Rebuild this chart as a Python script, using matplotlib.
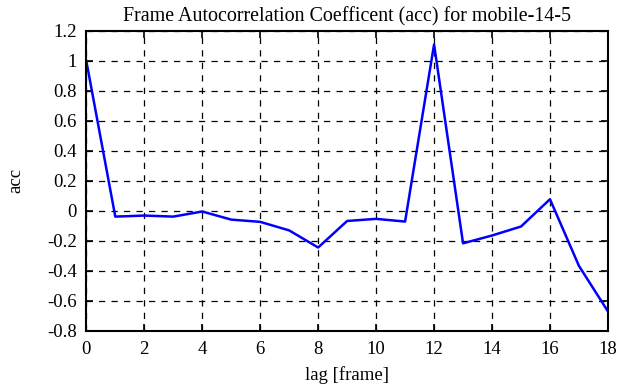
import matplotlib
matplotlib.use('Agg')
import matplotlib.pyplot as plt

lags = list(range(19))
acc = [1.0, -0.038, -0.031, -0.038, -0.004, -0.058, -0.073, -0.13, -0.244,
       -0.067, -0.053, -0.071, 1.11, -0.216, -0.164, -0.104, 0.078, -0.367,
       -0.67]
xticks = list(range(0, 19, 2))
yticks = [-0.8, -0.6, -0.4, -0.2, 0, 0.2, 0.4, 0.6, 0.8, 1, 1.2]
ylabels = ['-0.8', '-0.6', '-0.4', '-0.2', '0', '0.2', '0.4', '0.6', '0.8', '1', '1.2']

plt.rcParams['font.family'] = ['Liberation Serif', 'DejaVu Serif']
plt.rcParams['font.size'] = 13.5

fig, ax = plt.subplots(figsize=(6.3, 3.87), dpi=100)
fig.subplots_adjust(left=0.137, right=0.965, top=0.92, bottom=0.145)

ax.plot(lags, acc, color='#0000ff', linewidth=1.8)

ax.set_xlim(0, 18)
ax.set_ylim(-0.8, 1.2)
ax.set_xticks(xticks)
ax.set_yticks(yticks)
ax.set_yticklabels(ylabels)
ax.grid(True, color='black', linestyle=(0, (5, 5)), linewidth=0.9)
ax.tick_params(direction='in', top=True, right=True, length=5, width=1.2, pad=7)
for s in ax.spines.values():
    s.set_linewidth(1.5)

ax.set_title('Frame Autocorrelation Coefficent (acc) for mobile-14-5',
             fontsize=14.4, pad=7)
ax.set_xlabel('lag [frame]', labelpad=6)
ax.set_ylabel('acc', labelpad=16)

fig.savefig('out.png', dpi=100)
